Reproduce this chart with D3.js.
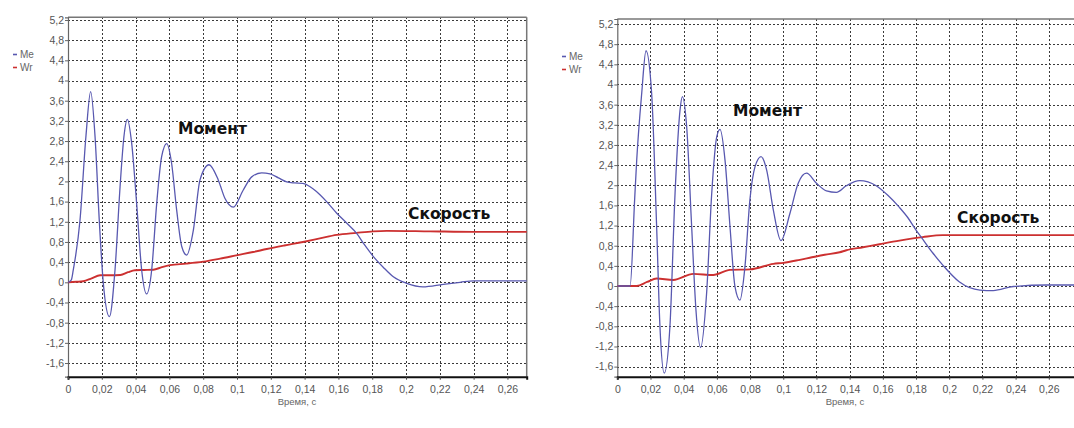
<!DOCTYPE html>
<html>
<head>
<meta charset="utf-8">
<script src="https://cdn.jsdelivr.net/npm/d3@7"></script>
<style>
  body { margin: 0; background: #fff; }
  svg { display: block; }
  .tick-label { font-family: "Liberation Sans", Arial, sans-serif; font-size: 10.5px; fill: #555; }
  .axis-title { font-family: "Liberation Sans", Arial, sans-serif; font-size: 9.5px; fill: #666; }
  .legend-text { font-family: "Liberation Sans", Arial, sans-serif; font-size: 10px; fill: #666; }
  .note { font-family: "DejaVu Sans", Verdana, sans-serif; font-weight: bold; font-size: 15.5px; fill: #111; }
</style>
</head>
<body>
<div id="chart"></div>
<script>
// ---- data ----
var xTicks = [0, 0.02, 0.04, 0.06, 0.08, 0.1, 0.12, 0.14, 0.16, 0.18, 0.2, 0.22, 0.24, 0.26];
var yTicks = [-1.6, -1.2, -0.8, -0.4, 0, 0.4, 0.8, 1.2, 1.6, 2, 2.4, 2.8, 3.2, 3.6, 4, 4.4, 4.8, 5.2];
var seriesNames = ["Me", "Wr"];
var noteMoment = "Момент";
var noteSpeed = "Скорость";
var xTitle = "Время, с";

// left picture: moment Me and speed Wr, [time, value]
var leftMe = [
  [0, 0], [0.002, 0.05], [0.0031, 0.24], [0.0071, 1.23], [0.0106, 2.89], [0.0134, 3.78],
  [0.016, 2.89], [0.0185, 1.23], [0.0209, -0.02], [0.0245, -0.68],
  [0.0278, 0.24], [0.0308, 1.89], [0.0331, 2.89], [0.0351, 3.23],
  [0.0377, 2.75], [0.0406, 1.57], [0.0436, 0.24], [0.0465, -0.23],
  [0.0495, 0.24], [0.0525, 1.57], [0.0554, 2.49], [0.0584, 2.75],
  [0.0613, 2.36], [0.0643, 1.43], [0.0673, 0.71], [0.0702, 0.54],
  [0.0742, 1.04], [0.0781, 2.03], [0.0834, 2.33],
  [0.0889, 2.03], [0.0929, 1.66], [0.0978, 1.49],
  [0.1037, 1.83], [0.1087, 2.09], [0.1146, 2.17], [0.1195, 2.15], [0.1245, 2.07],
  [0.1294, 1.99], [0.134, 1.97], [0.139, 1.96], [0.143, 1.9], [0.147, 1.8],
  [0.153, 1.6], [0.159, 1.37], [0.165, 1.17], [0.1708, 0.97], [0.1755, 0.74],
  [0.1807, 0.51], [0.1865, 0.3], [0.1925, 0.11], [0.2004, -0.02], [0.21, -0.09],
  [0.222, -0.04], [0.232, 0.0], [0.24, 0.03], [0.256, 0.03], [0.272, 0.03]
];
var leftWr = [
  [0, 0], [0.005, 0.01], [0.009, 0.02], [0.014, 0.08], [0.019, 0.14], [0.025, 0.14],
  [0.031, 0.145], [0.0355, 0.2], [0.0396, 0.24], [0.045, 0.245], [0.0505, 0.25],
  [0.0555, 0.3], [0.0604, 0.34], [0.07, 0.37], [0.08, 0.41], [0.09, 0.47],
  [0.1004, 0.54], [0.1095, 0.6], [0.1176, 0.66], [0.128, 0.73], [0.139, 0.8],
  [0.149, 0.87], [0.159, 0.94], [0.1707, 0.98], [0.1805, 1.01], [0.1886, 1.02],
  [0.2142, 1.01], [0.24, 1.0], [0.272, 1.0]
];

// right picture
var rightMe = [
  [0, 0], [0.0077, 0], [0.0105, 1.75], [0.0117, 2.5], [0.0147, 3.82], [0.0173, 4.67],
  [0.0207, 3.82], [0.0237, 1.18], [0.0257, -0.81], [0.0283, -1.73],
  [0.0317, -0.81], [0.0348, 1.84], [0.0378, 3.49], [0.0392, 3.76],
  [0.0418, 3.16], [0.0448, 1.18], [0.0474, -0.48], [0.0502, -1.22],
  [0.0538, -0.15], [0.0569, 1.84], [0.0599, 2.96], [0.0619, 3.11],
  [0.0649, 2.5], [0.0679, 1.18], [0.0709, -0.01], [0.0739, -0.28],
  [0.0769, 0.38], [0.0799, 1.71], [0.083, 2.37], [0.0866, 2.57],
  [0.09, 2.3], [0.094, 1.51], [0.0986, 0.9],
  [0.104, 1.44], [0.109, 2.04], [0.114, 2.24], [0.12, 2.04], [0.126, 1.89],
  [0.132, 1.86], [0.138, 1.99], [0.146, 2.09], [0.156, 1.99], [0.163, 1.8],
  [0.17, 1.56], [0.175, 1.36], [0.18, 1.11], [0.184, 0.93], [0.19, 0.66],
  [0.196, 0.42], [0.206, 0.085], [0.2185, -0.08], [0.2265, -0.09],
  [0.2386, -0.01], [0.2587, 0.02], [0.28, 0.02]
];
var rightWr = [
  [0, 0], [0.0117, 0], [0.018, 0.08], [0.0237, 0.15], [0.0337, 0.12], [0.0458, 0.24],
  [0.0578, 0.22], [0.0679, 0.32], [0.08, 0.33], [0.094, 0.44], [0.1, 0.46],
  [0.11, 0.52], [0.116, 0.56], [0.125, 0.62], [0.134, 0.67], [0.138, 0.71],
  [0.148, 0.77], [0.158, 0.83], [0.17, 0.9], [0.184, 0.97], [0.196, 1.01],
  [0.22, 1.01], [0.28, 1.01]
];

// ---- layout of the two panels ----
var W = 1074, H = 428;
var svg = d3.select("#chart").append("svg")
    .attr("width", W)
    .attr("height", H);

var panels = [
  {
    x0: 68, x1: 526.7, xMax: 0.2714, yTop: 17.3, yBottom: 376.7, yMin: -1.871, yMax: 5.253,
    rightBorder: true, legend: [13, 58], moment: [178, 134], speed: [408, 219], title: [297, 405],
    me: leftMe, wr: leftWr
  },
  {
    x0: 617.3, x1: 1082, xMax: 0.28, yTop: 19, yBottom: 376.7, yMin: -1.80, yMax: 5.30,
    rightBorder: false, legend: [562, 60], moment: [733, 116], speed: [957, 223], title: [845, 405],
    me: rightMe, wr: rightWr
  }
];

var fmt = function (v) { return String(+v.toFixed(2)).replace(".", ","); };
var colors = { Me: "#5858b0", Wr: "#cc3030" };
var px = function (v) { return Math.round(v) + 0.5; };

panels.forEach(function (p, i) {
  var x = d3.scaleLinear().domain([0, p.xMax]).range([p.x0, p.x1]);
  var y = d3.scaleLinear().domain([p.yMin, p.yMax]).range([p.yBottom, p.yTop]);

  var g = svg.append("g");
  var clipId = "clip" + i;
  g.append("clipPath").attr("id", clipId)
    .append("rect")
    .attr("x", p.x0).attr("y", p.yTop)
    .attr("width", p.x1 - p.x0).attr("height", p.yBottom - p.yTop);

  // dashed grid
  var grid = g.append("g").attr("shape-rendering", "crispEdges");
  grid.selectAll("line.vx").data(xTicks.slice(1))
    .enter().append("line")
    .attr("x1", function (d) { return px(x(d)); }).attr("x2", function (d) { return px(x(d)); })
    .attr("y1", p.yTop).attr("y2", p.yBottom)
    .attr("stroke", "#3a3a3a").attr("stroke-width", 1).attr("stroke-dasharray", "2,2");

  grid.selectAll("line.hy").data(yTicks)
    .enter().append("line")
    .attr("x1", p.x0).attr("x2", p.x1)
    .attr("y1", function (d) { return px(y(d)); }).attr("y2", function (d) { return px(y(d)); })
    .attr("stroke", "#3a3a3a").attr("stroke-width", 1).attr("stroke-dasharray", "2,2");

  // frame
  g.append("line").attr("x1", p.x0).attr("x2", p.x1).attr("y1", p.yTop).attr("y2", p.yTop)
    .attr("stroke", "#777").attr("stroke-width", 1.5);
  if (p.rightBorder) {
    g.append("line").attr("x1", p.x1).attr("x2", p.x1).attr("y1", p.yTop).attr("y2", p.yBottom)
      .attr("stroke", "#777").attr("stroke-width", 1.5);
  }

  // y axis
  var yAxis = d3.axisLeft(y).tickValues(yTicks).tickFormat(fmt).tickSize(3).tickPadding(1);
  var ya = g.append("g").attr("transform", "translate(" + p.x0 + ",0)").call(yAxis);
  ya.select(".domain").attr("stroke", "#666").attr("stroke-width", 1.2);
  ya.selectAll(".tick line").attr("stroke", "#666");
  ya.selectAll(".tick text").attr("class", "tick-label").attr("fill", null);

  // x axis
  var xAxis = d3.axisBottom(x).tickValues(xTicks).tickFormat(fmt).tickSize(3).tickPadding(6);
  var xa = g.append("g").attr("transform", "translate(0," + p.yBottom + ")").call(xAxis);
  xa.select(".domain").attr("stroke", "#111").attr("stroke-width", 2);
  xa.selectAll(".tick line").attr("stroke", "#444");
  xa.selectAll(".tick text").attr("class", "tick-label").attr("fill", null);

  g.append("text").attr("class", "axis-title")
    .attr("x", p.title[0]).attr("y", p.title[1])
    .attr("text-anchor", "middle").text(xTitle);

  // curves
  var line = d3.line()
    .x(function (d) { return x(d[0]); })
    .y(function (d) { return y(d[1]); })
    .curve(d3.curveMonotoneX);

  var plot = g.append("g").attr("clip-path", "url(#" + clipId + ")");
  plot.append("path").datum(p.wr)
    .attr("d", line).attr("fill", "none")
    .attr("stroke", colors.Wr).attr("stroke-width", 1.9);
  plot.append("path").datum(p.me)
    .attr("d", line).attr("fill", "none")
    .attr("stroke", colors.Me).attr("stroke-width", 1.3);

  // legend
  seriesNames.forEach(function (name, k) {
    var ly = p.legend[1] + k * 13;
    g.append("line")
      .attr("x1", p.legend[0]).attr("x2", p.legend[0] + 4)
      .attr("y1", ly - 3.5).attr("y2", ly - 3.5)
      .attr("stroke", colors[name]).attr("stroke-width", 1.6);
    g.append("text").attr("class", "legend-text")
      .attr("x", p.legend[0] + 7).attr("y", ly)
      .text(name);
  });

  // annotations
  g.append("text").attr("class", "note").attr("x", p.moment[0]).attr("y", p.moment[1]).text(noteMoment);
  g.append("text").attr("class", "note").attr("x", p.speed[0]).attr("y", p.speed[1]).text(noteSpeed);
});
</script>
</body>
</html>
